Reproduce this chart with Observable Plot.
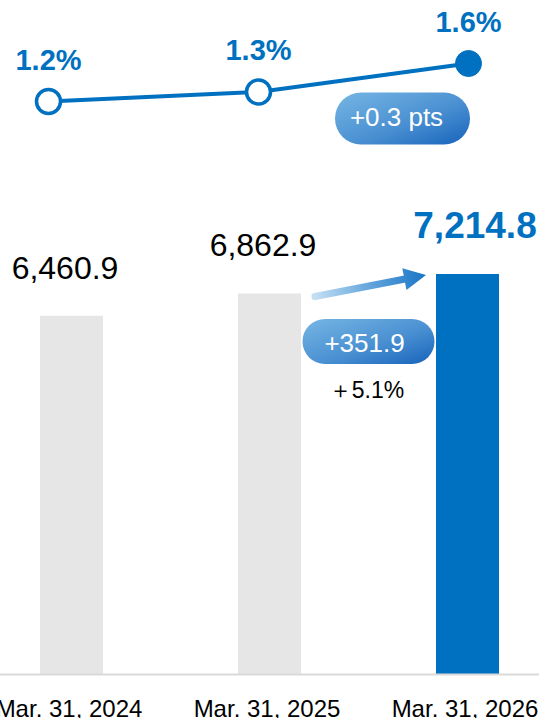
<!DOCTYPE html>
<html><head><meta charset="utf-8">
<script src="https://cdn.jsdelivr.net/npm/d3@7"></script>
<script src="https://cdn.jsdelivr.net/npm/@observablehq/plot@0.6"></script>
<style>
html,body{margin:0;padding:0;background:#fff;}
#chart{width:539px;height:718px;overflow:hidden;}
#chart svg{display:block;}
</style></head><body><div id="chart"></div>
<script>
// ---- data ----
const dates = ["Mar. 31, 2024", "Mar. 31, 2025", "Mar. 31, 2026"];
const balances = [6460.9, 6862.9, 7214.8];
const balanceLabels = ["6,460.9", "6,862.9", "7,214.8"];
const ratios = [1.2, 1.3, 1.6];
const ratioLabels = ["1.2%", "1.3%", "1.6%"];
const ratioChange = "+0.3 pts";
const balanceChange = "+351.9";
const balanceChangePct = "＋5.1%";

// ---- style ----
const blue = "#0070c0";
const gray = "#e6e6e6";
const font = "'Liberation Sans', Arial, Helvetica, sans-serif";

const last = dates.length - 1;
const ratioData = dates.map((d, i) => ({date: d, value: ratios[i], label: ratioLabels[i], current: i === last}));
const barData = dates.map((d, i) => ({date: d, value: balances[i], label: balanceLabels[i], current: i === last}));

function addPill(g, cx, cy, w, h, text, fontSize, gradId, tdx, tdy) {
  g.append("rect")
    .attr("x", cx - w / 2).attr("y", cy - h / 2)
    .attr("width", w).attr("height", h)
    .attr("rx", h / 2).attr("ry", h / 2)
    .attr("fill", `url(#${gradId})`);
  g.append("text")
    .attr("x", cx + tdx).attr("y", cy + tdy)
    .attr("dy", "0.35em")
    .attr("text-anchor", "middle")
    .attr("fill", "#fff")
    .attr("font-size", fontSize)
    .attr("font-family", font)
    .text(text);
}

function pillGradient(defs, id) {
  const lg = defs.append("linearGradient").attr("id", id)
    .attr("x1", 0).attr("y1", 0).attr("x2", 1).attr("y2", 1);
  lg.append("stop").attr("offset", "0%").attr("stop-color", "#76b6e4");
  lg.append("stop").attr("offset", "55%").attr("stop-color", "#4b91d2");
  lg.append("stop").attr("offset", "100%").attr("stop-color", "#1763bb");
}

// ---- top: ratio line ----
function ratioAnnotation(index, scales) {
  const g = d3.create("svg:g");
  const defs = g.append("defs");
  pillGradient(defs, "pillGradTop");
  const cx = scales.x(dates[last]) - 65.5;
  const cy = scales.y(ratios[last]) + 55.5;
  addPill(g, cx, cy, 135, 52, ratioChange, 26, "pillGradTop", -6, -2);
  return g.node();
}

const ratioPlot = Plot.plot({
  width: 539,
  height: 170,
  marginLeft: 47,
  marginRight: 71,
  marginTop: 25,
  marginBottom: 50,
  style: {fontFamily: font, background: "#fff"},
  x: {type: "point", domain: dates, padding: 0, axis: null},
  y: {domain: [1, 2], axis: null},
  marks: [
    Plot.line(ratioData, {x: "date", y: "value", stroke: blue, strokeWidth: 4}),
    Plot.dot(ratioData, {filter: d => !d.current, x: "date", y: "value", r: 12, fill: "#fff", stroke: blue, strokeWidth: 3.5}),
    Plot.dot(ratioData, {filter: d => d.current, x: "date", y: "value", r: 13, fill: blue, stroke: blue, strokeWidth: 1}),
    Plot.text(ratioData, {x: "date", y: "value", text: "label", dy: -41, fontSize: 29, fontWeight: "bold", fill: blue}),
    ratioAnnotation
  ]
});

// ---- bottom: balance bars ----
function balanceAnnotation(index, scales) {
  const x = scales.x, y = scales.y;
  const bw = typeof x.bandwidth === "function" ? x.bandwidth() : 63;
  const g = d3.create("svg:g");
  const defs = g.append("defs");
  pillGradient(defs, "pillGradBottom");

  // arrow from previous bar to current bar
  const sx = x(dates[last - 1]) + bw + 14, sy = y(balances[last - 1]) + 3;
  const tx = x(dates[last]) - 10, ty = y(balances[last]) + 1;
  const ag = defs.append("linearGradient").attr("id", "arrowGrad")
    .attr("gradientUnits", "userSpaceOnUse")
    .attr("x1", sx).attr("y1", sy).attr("x2", tx).attr("y2", ty);
  ag.append("stop").attr("offset", "0%").attr("stop-color", "#c4def3");
  ag.append("stop").attr("offset", "45%").attr("stop-color", "#6aaade");
  ag.append("stop").attr("offset", "100%").attr("stop-color", "#1a74c6");
  const len = Math.hypot(tx - sx, ty - sy);
  const ux = (tx - sx) / len, uy = (ty - sy) / len;
  const nx = -uy, ny = ux;
  const headL = 22, headW = 11;
  const bx = tx - ux * headL, by = ty - uy * headL;
  g.append("line")
    .attr("x1", sx).attr("y1", sy)
    .attr("x2", bx + ux * 2).attr("y2", by + uy * 2)
    .attr("stroke", "url(#arrowGrad)").attr("stroke-width", 7)
    .attr("stroke-linecap", "round");
  g.append("path")
    .attr("d", `M${tx},${ty}L${bx + nx * headW},${by + ny * headW}L${bx - nx * headW},${by - ny * headW}Z`)
    .attr("fill", "url(#arrowGrad)");

  // change pill and percentage
  const cx = (x(dates[last - 1]) + x(dates[last])) / 2 + bw / 2;
  const cy = y(balances[last]) + 67.5;
  addPill(g, cx, cy, 132, 45, balanceChange, 26, "pillGradBottom", -4, 1.5);
  g.append("text")
    .attr("x", cx - 2).attr("y", cy + 48.5)
    .attr("dy", "0.35em")
    .attr("text-anchor", "middle")
    .attr("fill", "#000")
    .attr("font-size", 23)
    .attr("font-family", font)
    .text(balanceChangePct);
  return g.node();
}

const barPlot = Plot.plot({
  width: 539,
  height: 548,
  marginLeft: 0,
  marginRight: 0,
  marginTop: 5,
  marginBottom: 44,
  style: {fontFamily: font, background: "#fff", color: "#000"},
  x: {type: "band", domain: dates, paddingInner: 0.6826, paddingOuter: 0.199, align: 0.5, label: null},
  y: {domain: [0, 9000], axis: null},
  marks: [
    Plot.barY(barData, {filter: d => !d.current, x: "date", y: "value", fill: gray}),
    Plot.barY(barData, {filter: d => d.current, x: "date", y: "value", fill: blue}),
    Plot.ruleY([0], {stroke: "#d9d9d9", strokeWidth: 2}),
    Plot.text(barData, {filter: d => !d.current, x: "date", y: "value", text: "label", dy: -48, dx: -7, fontSize: 32, fill: "#000"}),
    Plot.text(barData, {filter: d => d.current, x: "date", y: "value", text: "label", dy: -48, dx: 7, fontSize: 37, fontWeight: "bold", fill: blue}),
    Plot.axisX({tickSize: 0, tickPadding: 25, fontSize: 24, dx: -3, fill: "#000", label: null}),
    balanceAnnotation
  ]
});

const chart = document.getElementById("chart");
chart.appendChild(ratioPlot);
chart.appendChild(barPlot);
</script>
</body></html>
